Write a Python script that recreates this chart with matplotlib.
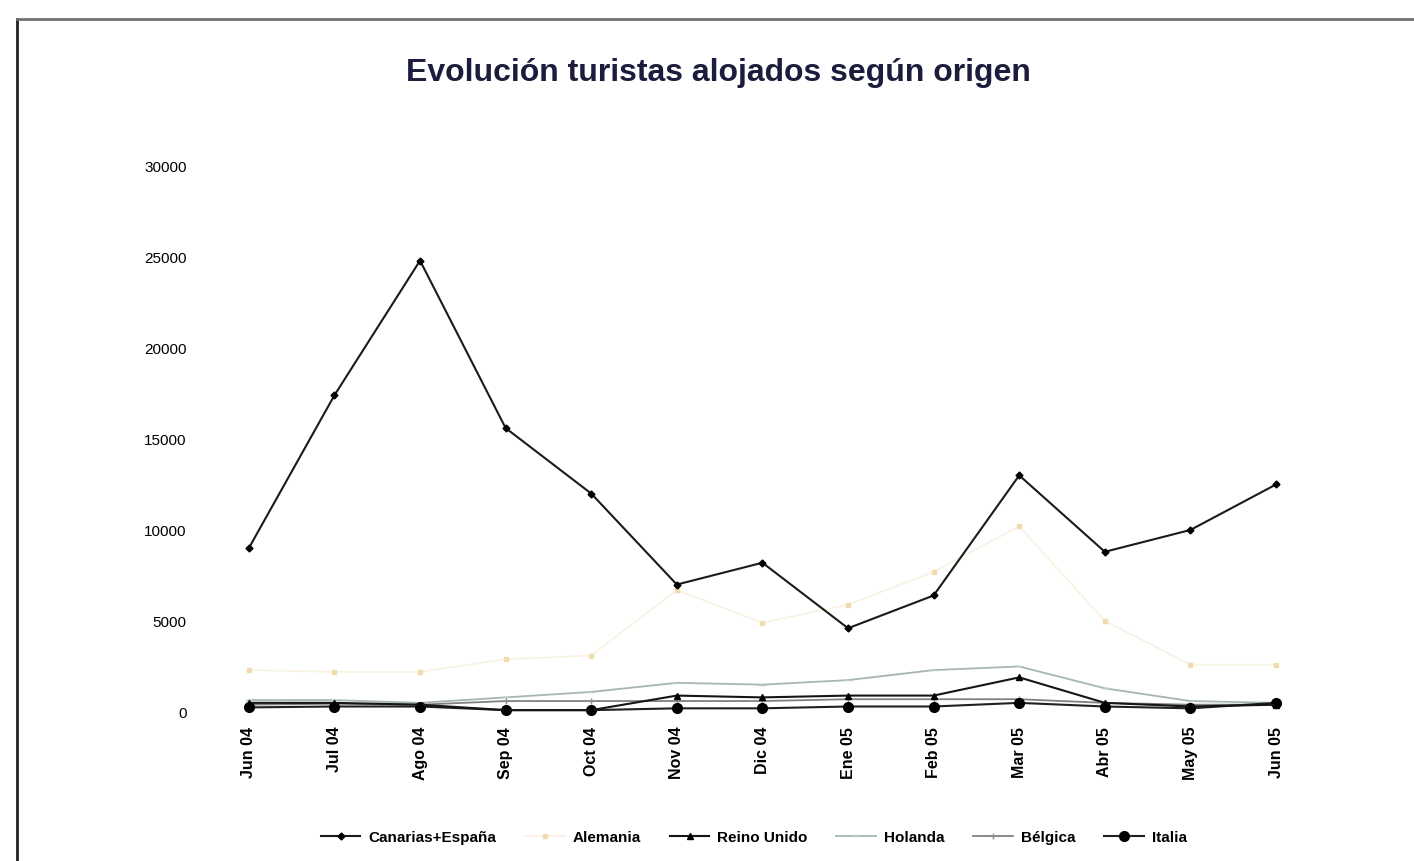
import matplotlib
matplotlib.use("Agg")
import matplotlib.pyplot as plt
from matplotlib.lines import Line2D

months = ["Jun 04", "Jul 04", "Ago 04", "Sep 04", "Oct 04", "Nov 04", "Dic 04",
          "Ene 05", "Feb 05", "Mar 05", "Abr 05", "May 05", "Jun 05"]
canarias = [9000, 17400, 24800, 15600, 12000, 7000, 8200, 4600, 6400, 13000, 8800, 10000, 12500]
alemania = [2300, 2200, 2200, 2900, 3100, 6700, 4900, 5900, 7700, 10200, 5000, 2600, 2600]
reino_unido = [500, 500, 400, 100, 100, 900, 800, 900, 900, 1900, 500, 300, 400]
holanda = [650, 650, 500, 800, 1100, 1600, 1500, 1750, 2300, 2500, 1300, 600, 500]
belgica = [400, 450, 400, 600, 600, 600, 600, 700, 700, 700, 500, 400, 400]
italia = [250, 300, 300, 100, 100, 200, 200, 300, 300, 500, 300, 200, 500]
yticks = [0, 5000, 10000, 15000, 20000, 25000, 30000]

plt.rcParams['font.family'] = ['Liberation Sans', 'DejaVu Sans']

fig = plt.figure(figsize=(14.14, 8.62), dpi=100)
ax = fig.add_axes([0.1457, 0.1729, 0.787, 0.6334])
x = list(range(len(months)))

ax.plot(x, holanda, color='#a8b4b4', lw=1.3, marker='_', ms=6, mec='#b8cccc', label='Holanda', clip_on=False, zorder=2)
ax.plot(x, belgica, color='#808080', lw=1.3, marker='+', ms=5, mec='#909090', label='Bélgica', clip_on=False, zorder=2)
ax.plot(x, alemania, color='#f8f2e2', lw=1.2, marker='s', ms=3.5, mfc='#f0dcac', mec='#f0dcac', label='Alemania', clip_on=False, zorder=2)
ax.plot(x, italia, color='#202020', lw=1.5, marker='o', ms=7, mfc='black', mec='black', label='Italia', clip_on=False, zorder=3)
ax.plot(x, reino_unido, color='#151515', lw=1.5, marker='^', ms=5, mfc='black', mec='black', label='Reino Unido', clip_on=False, zorder=4)
ax.plot(x, canarias, color='#1a1a1a', lw=1.5, marker='D', ms=3.5, mfc='black', mec='black', label='Canarias+España', clip_on=False, zorder=5)

ax.set_xlim(-0.5, len(months) - 0.5)
ax.set_ylim(0, 30000)
ax.set_yticks(yticks)
ax.set_yticklabels([str(v) for v in yticks], fontsize=11)
ax.set_xticks(x)
ax.set_xticklabels(months, rotation=90, fontsize=11.5, fontweight='bold')
ax.tick_params(axis='both', length=0)
ax.tick_params(axis='y', pad=14)
ax.tick_params(axis='x', pad=10)
for s in ax.spines.values():
    s.set_visible(False)

fig.text(0.508, 0.915, "Evolución turistas alojados según origen", ha='center', va='center',
         fontsize=23, fontweight='bold', color='#1c1c3c')

handles, labels = ax.get_legend_handles_labels()
order = ['Canarias+España', 'Alemania', 'Reino Unido', 'Holanda', 'Bélgica', 'Italia']
hmap = dict(zip(labels, handles))
leg = fig.legend([hmap[k] for k in order], order, loc='center', bbox_to_anchor=(0.533, 0.028),
                 ncol=6, frameon=False, handlelength=2.6, columnspacing=1.9,
                 handletextpad=0.5, prop={'weight': 'bold', 'size': 11})

fig.add_artist(Line2D([0.012, 0.012], [0.0, 0.977], transform=fig.transFigure, color='#202020', lw=2))
fig.add_artist(Line2D([0.012, 1.0], [0.977, 0.977], transform=fig.transFigure, color='#707070', lw=2))

fig.savefig("out.png", dpi=100)
